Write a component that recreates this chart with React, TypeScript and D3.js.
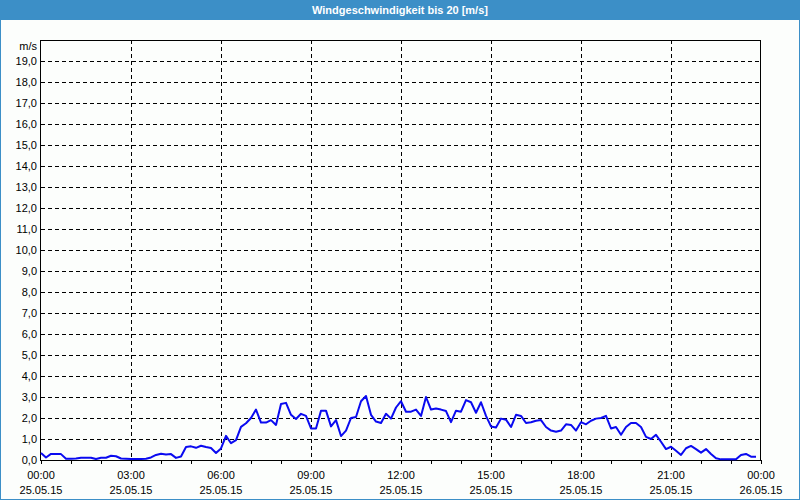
import React from "react";
import * as d3 from "d3";

const title = "Windgeschwindigkeit bis 20 [m/s]";
const unitLabel = "m/s";
const timeLabels = ["00:00", "03:00", "06:00", "09:00", "12:00", "15:00", "18:00", "21:00", "00:00"];
const dateLabels = ["25.05.15", "25.05.15", "25.05.15", "25.05.15", "25.05.15", "25.05.15", "25.05.15", "25.05.15", "26.05.15"];
const yTicks = [0, 1, 2, 3, 4, 5, 6, 7, 8, 9, 10, 11, 12, 13, 14, 15, 16, 17, 18, 19];
// wind speed, one value every 10 minutes from 00:00 to 23:50
const windSpeed = [
  0.33, 0.12, 0.29, 0.29, 0.28, 0.06, 0.06, 0.07, 0.11, 0.11, 0.11, 0.05,
  0.11, 0.11, 0.2, 0.18, 0.07, 0.06, 0.05, 0.05, 0.05, 0.06, 0.12, 0.24,
  0.3, 0.26, 0.28, 0.1, 0.17, 0.62, 0.65, 0.58, 0.68, 0.62, 0.57, 0.33,
  0.55, 1.15, 0.8, 0.95, 1.58, 1.75, 2.0, 2.4, 1.78, 1.78, 1.9, 1.67,
  2.67, 2.72, 2.15, 1.95, 2.2, 2.1, 1.5, 1.5, 2.35, 2.35, 1.6, 1.9,
  1.14, 1.4, 2.0, 2.05, 2.8, 3.05, 2.15, 1.83, 1.76, 2.2, 1.97, 2.5,
  2.8, 2.3, 2.3, 2.4, 2.1, 3.0, 2.4, 2.45, 2.4, 2.33, 1.8, 2.35,
  2.3, 2.85, 2.75, 2.25, 2.75, 2.1, 1.6, 1.55, 1.97, 1.92, 1.57, 2.15,
  2.1, 1.76, 1.8, 1.87, 1.9, 1.57, 1.4, 1.35, 1.4, 1.7, 1.67, 1.4,
  1.8, 1.7, 1.87, 1.97, 2.0, 2.1, 1.5, 1.57, 1.2, 1.57, 1.76, 1.76,
  1.57, 1.1, 1.0, 1.2, 0.87, 0.52, 0.63, 0.44, 0.24, 0.56, 0.67, 0.52,
  0.35, 0.52, 0.29, 0.08, 0.03, 0.03, 0.03, 0.03, 0.24, 0.29, 0.16, 0.16,
];

const W = 800;
const H = 500;
const L = 41;
const R = 761;
const T = 40;
const B = 460;

export default function App() {
  const x = d3.scaleLinear().domain([0, 24]).range([L, R]);
  const y = d3.scaleLinear().domain([0, 20]).range([B, T]);
  const line = d3
    .line<number>()
    .x((_, i) => x(i / 6))
    .y((d) => y(d));
  const hours = d3.range(0, 25);
  const majorHours = d3.range(0, 25, 3);
  const font = "'Liberation Sans', Arial, sans-serif";
  return (
    <svg width={W} height={H} style={{ position: "absolute", left: 0, top: 0 }} fontFamily={font}>
      <rect x={0} y={0} width={W} height={H} fill="#3c8fc7" />
      <rect x={1} y={20} width={W - 2} height={H - 21} fill="#fcfefc" />
      <text x={W / 2} y={14} textAnchor="middle" fill="#ffffff" fontSize={11} fontWeight="bold">
        {title}
      </text>
      {/* horizontal grid */}
      {yTicks.filter((v) => v > 0).map((v) => (
        <line key={"h" + v} x1={L} x2={R} y1={Math.round(y(v)) + 0.5} y2={Math.round(y(v)) + 0.5}
          stroke="#000" strokeDasharray="4,3" shapeRendering="crispEdges" />
      ))}
      {/* vertical grid */}
      {majorHours.filter((h) => h > 0 && h < 24).map((h) => (
        <line key={"v" + h} x1={Math.round(x(h)) + 0.5} x2={Math.round(x(h)) + 0.5} y1={T} y2={B}
          stroke="#000" strokeDasharray="4,3" shapeRendering="crispEdges" />
      ))}
      {/* hour ticks */}
      {hours.map((h) => (
        <line key={"t" + h} x1={Math.round(x(h)) + 0.5} x2={Math.round(x(h)) + 0.5} y1={B} y2={B + 4}
          stroke="#000" shapeRendering="crispEdges" />
      ))}
      {/* frame */}
      <rect x={L - 0.5} y={T + 0.5} width={R - L} height={B - T} fill="none" stroke="#000" shapeRendering="crispEdges" />
      {/* data */}
      <path d={line(windSpeed) || ""} fill="none" stroke="#0a0af0" strokeWidth={2} strokeLinejoin="round" />
      {/* y labels */}
      {yTicks.map((v) => (
        <text key={"yl" + v} x={37} y={y(v) + 4} textAnchor="end" fontSize={11} fill="#000">
          {d3.format(".1f")(v).replace(".", ",")}
        </text>
      ))}
      <text x={37} y={50} textAnchor="end" fontSize={11} fill="#000">{unitLabel}</text>
      {/* x labels */}
      {majorHours.map((h, i) => (
        <g key={"xl" + h}>
          <text x={x(h)} y={479} textAnchor="middle" fontSize={11} fill="#000">{timeLabels[i]}</text>
          <text x={x(h)} y={494} textAnchor="middle" fontSize={11} fill="#000">{dateLabels[i]}</text>
        </g>
      ))}
    </svg>
  );
}
